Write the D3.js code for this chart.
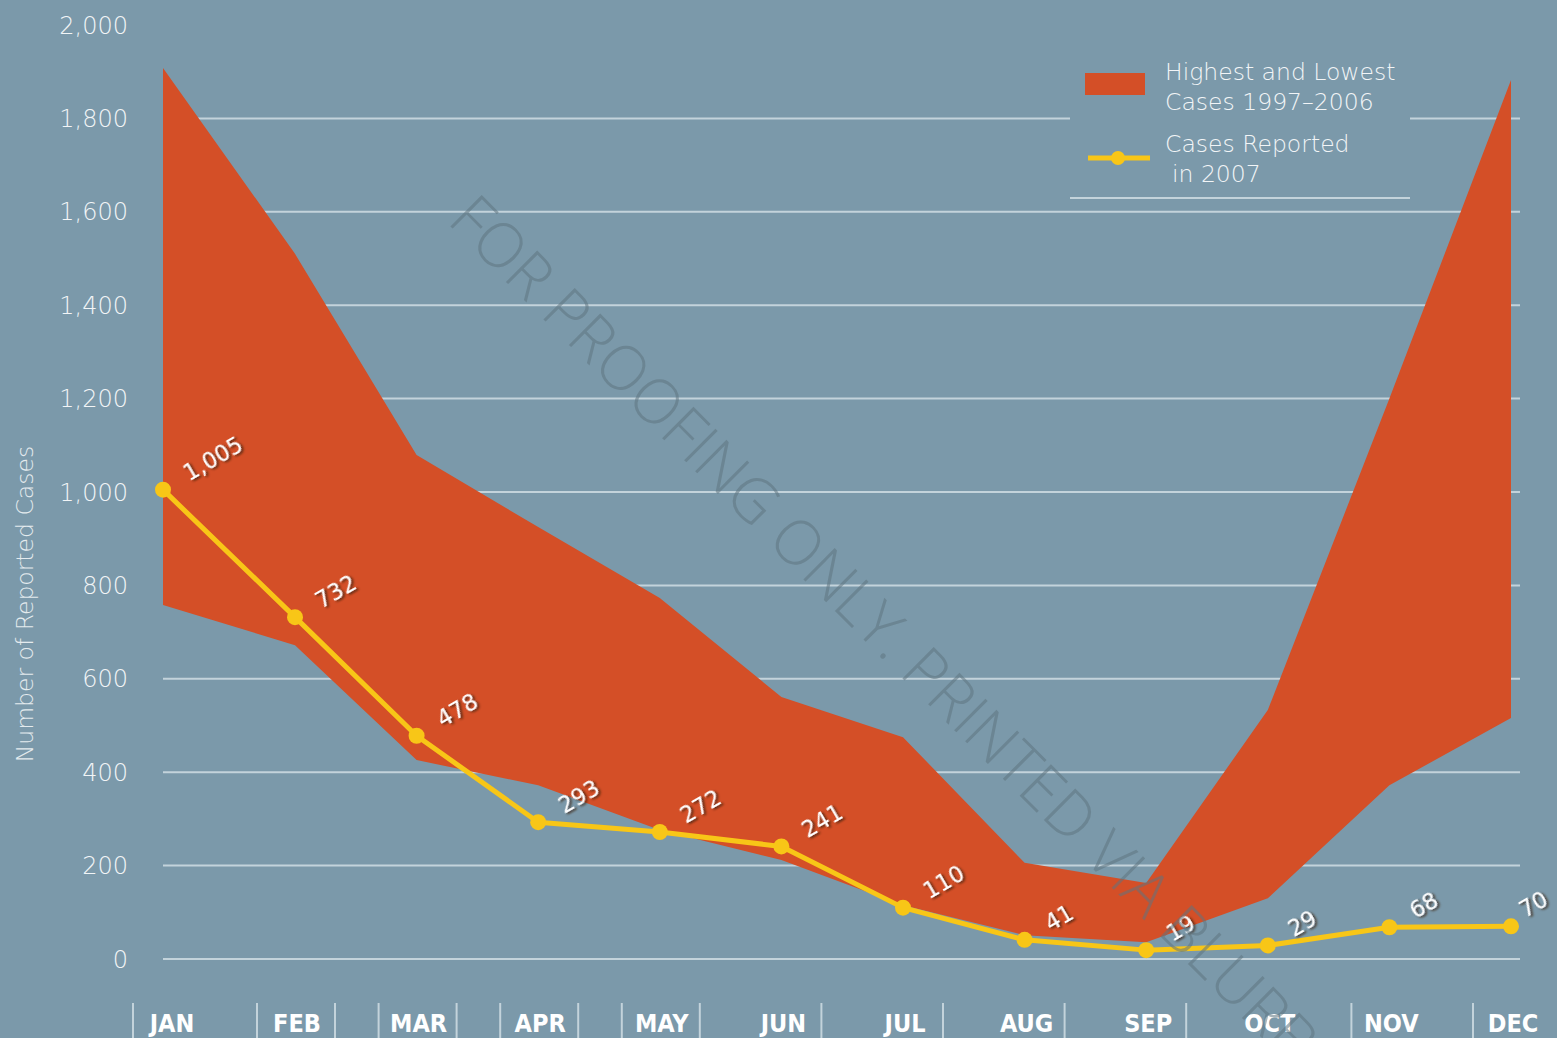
<!DOCTYPE html>
<html>
<head>
<meta charset="utf-8">
<script src="https://cdn.jsdelivr.net/npm/d3@7"></script>
<style>
  body { margin: 0; background: #7b99aa; }
  svg { display: block; }
</style>
</head>
<body>
<div id="chart"></div>
<script>
// data
var months = ["JAN", "FEB", "MAR", "APR", "MAY", "JUN", "JUL", "AUG", "SEP", "OCT", "NOV", "DEC"];
var cases2007 = [1005, 732, 478, 293, 272, 241, 110, 41, 19, 29, 68, 70];
var highest = [1908, 1510, 1079, 925, 773, 561, 475, 206, 163, 533, 1200, 1882];
var lowest = [758, 672, 426, 372, 276, 212, 115, 51, 36, 130, 372, 516];
var yTicks = [0, 200, 400, 600, 800, 1000, 1200, 1400, 1600, 1800, 2000];
// month labels with a divider on their left / right side
var leftDividers = ["JAN", "FEB", "MAR", "APR", "MAY", "NOV", "DEC"];
var rightDividers = ["FEB", "MAR", "APR", "MAY", "JUN", "JUL", "AUG", "SEP"];

var width = 1557, height = 1038;
var bg = "#7b99aa", orange = "#d44f27", yellow = "#f8c617", gridColor = "#c3d3db";

var svg = d3.select("#chart").append("svg")
    .attr("width", width)
    .attr("height", height);

svg.append("rect").attr("width", width).attr("height", height).attr("fill", bg);

var defs = svg.append("defs");
var shadow = defs.append("filter").attr("id", "shadow")
    .attr("x", "-30%").attr("y", "-30%").attr("width", "160%").attr("height", "160%");
shadow.append("feDropShadow")
    .attr("dx", 1.5).attr("dy", 2).attr("stdDeviation", 1.2)
    .attr("flood-color", "#3a1a10").attr("flood-opacity", 0.85);

// JAN sits a little further left than the even month spacing
var xi = d3.scaleLinear().domain([0, 1, 11]).range([163, 295, 1511]);
var x = function(m) { return xi(months.indexOf(m)); };
var y = d3.scaleLinear().domain([0, 2000]).range([959, 25]);

// gridlines
svg.append("g").selectAll("line")
    .data(yTicks.filter(function(d) { return d < 2000; }))
    .enter().append("line")
    .attr("x1", 163).attr("x2", 1520)
    .attr("y1", function(d) { return y(d); })
    .attr("y2", function(d) { return y(d); })
    .attr("stroke", gridColor)
    .attr("stroke-width", 2);

// y tick labels
svg.append("g").selectAll("text")
    .data(yTicks)
    .enter().append("text")
    .attr("x", 128)
    .attr("y", function(d) { return y(d); })
    .attr("dy", "0.36em")
    .attr("text-anchor", "end")
    .attr("fill", "#f2f5f7")
    .style("font-family", "'DejaVu Sans', sans-serif")
    .style("font-size", "24px")
    .style("font-weight", 200)
    .text(function(d) { return d3.format(",")(d); });

svg.append("text")
    .attr("transform", "translate(33," + y(760) + ") rotate(-90)")
    .attr("text-anchor", "middle")
    .attr("fill", "#e4ebee")
    .style("font-family", "'DejaVu Sans', sans-serif")
    .style("font-size", "23.5px")
    .style("font-weight", 200)
    .text("Number of Reported Cases");

// legend (its background hides the gridlines behind it)
var legend = svg.append("g");
legend.append("rect")
    .attr("x", 1070).attr("y", 55).attr("width", 340).attr("height", 143)
    .attr("fill", bg);
legend.append("line")
    .attr("x1", 1070).attr("x2", 1410).attr("y1", 198).attr("y2", 198)
    .attr("stroke", gridColor).attr("stroke-width", 2);
legend.append("rect")
    .attr("x", 1085).attr("y", 73).attr("width", 60).attr("height", 22)
    .attr("fill", orange);
legend.append("line")
    .attr("x1", 1088).attr("x2", 1150).attr("y1", 158).attr("y2", 158)
    .attr("stroke", yellow).attr("stroke-width", 5);
legend.append("circle")
    .attr("cx", 1118).attr("cy", 158).attr("r", 7).attr("fill", yellow);
var legendText = [
    ["Highest and Lowest", 1165, 80],
    ["Cases 1997\u20132006", 1165, 110],
    ["Cases Reported", 1165, 152],
    ["in 2007", 1172, 182]
];
legend.selectAll("text.leg")
    .data(legendText)
    .enter().append("text")
    .attr("class", "leg")
    .attr("x", function(d) { return d[1]; })
    .attr("y", function(d) { return d[2]; })
    .attr("fill", "#f2f5f7")
    .style("font-family", "'DejaVu Sans', sans-serif")
    .style("font-size", "23.5px")
    .style("font-weight", 200)
    .text(function(d) { return d[0]; });

// band of highest and lowest
var band = months.map(function(m, i) { return { m: m, hi: highest[i], lo: lowest[i] }; });
svg.append("path")
    .datum(band)
    .attr("fill", orange)
    .attr("d", d3.area()
        .x(function(d) { return x(d.m); })
        .y0(function(d) { return y(d.lo); })
        .y1(function(d) { return y(d.hi); }));

// 2007 line
var pts = months.map(function(m, i) { return { m: m, v: cases2007[i] }; });
svg.append("path")
    .datum(pts)
    .attr("fill", "none")
    .attr("stroke", yellow)
    .attr("stroke-width", 5)
    .attr("stroke-linejoin", "round")
    .attr("d", d3.line()
        .x(function(d) { return x(d.m); })
        .y(function(d) { return y(d.v); }));

svg.append("g").selectAll("circle")
    .data(pts)
    .enter().append("circle")
    .attr("cx", function(d) { return x(d.m); })
    .attr("cy", function(d) { return y(d.v); })
    .attr("r", 8)
    .attr("fill", yellow);

svg.append("g").selectAll("text")
    .data(pts)
    .enter().append("text")
    .attr("transform", function(d) {
        return "translate(" + (x(d.m) + (d.m === "DEC" ? 14 : 26)) + "," + (y(d.v) - 8) + ") rotate(-30)";
    })
    .attr("fill", "#ffffff")
    .attr("filter", "url(#shadow)")
    .style("font-family", "'DejaVu Sans', sans-serif")
    .style("font-size", "22.5px")
    .text(function(d) { return d3.format(",")(d.v); });

// month labels and dividers
svg.append("g").selectAll("text")
    .data(months)
    .enter().append("text")
    .attr("x", function(d) { return x(d) + (d === "JAN" ? 9 : 2); })
    .attr("y", 1032)
    .attr("text-anchor", "middle")
    .attr("fill", "#ffffff")
    .style("font-family", "'DejaVu Sans Condensed', 'DejaVu Sans', sans-serif")
    .style("font-size", "25px")
    .style("font-weight", "bold")
    .text(function(d) { return d; });

var dividers = leftDividers.map(function(m) { return x(m) - (m === "JAN" ? 30 : 38); })
    .concat(rightDividers.map(function(m) { return x(m) + 40; }));
svg.append("g").selectAll("line")
    .data(dividers)
    .enter().append("line")
    .attr("x1", function(d) { return d; })
    .attr("x2", function(d) { return d; })
    .attr("y1", 1003).attr("y2", 1038)
    .attr("stroke", gridColor)
    .attr("stroke-width", 2);

// proofing watermark
svg.append("text")
    .attr("transform", "translate(446,222) rotate(45)")
    .attr("fill", "#5f7480")
    .attr("fill-opacity", 0.55)
    .style("font-family", "'Open Sans', sans-serif")
    .style("font-size", "62px")
    .style("font-weight", 300)
    .text("FOR PROOFING ONLY. PRINTED VIA BLURB");
</script>
</body>
</html>
